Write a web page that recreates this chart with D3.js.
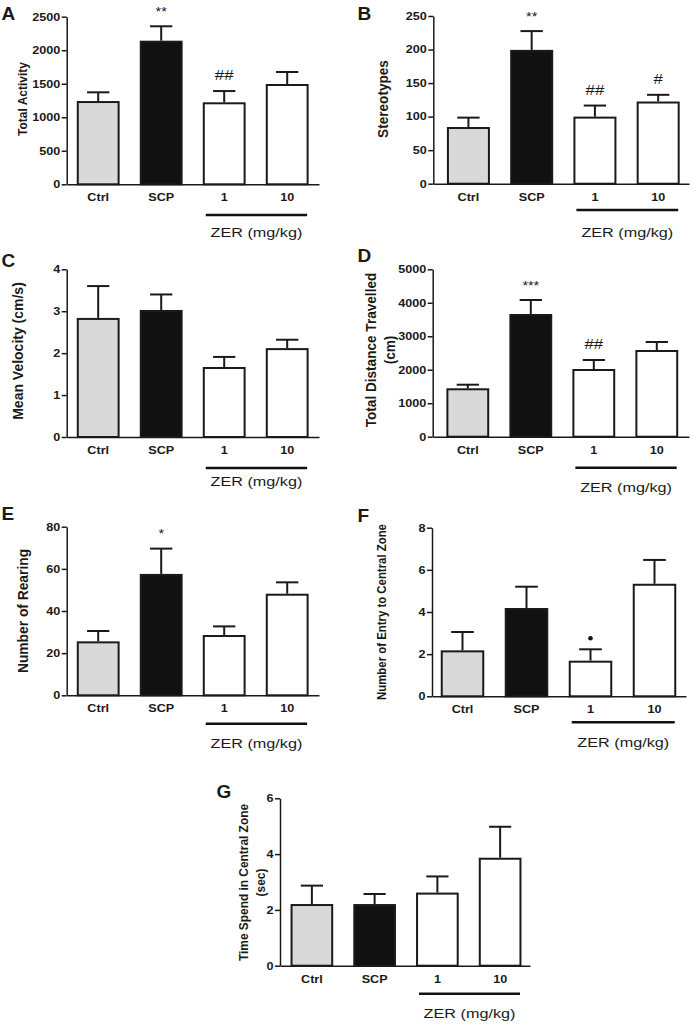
<!DOCTYPE html>
<html><head><meta charset="utf-8">
<script src="https://cdn.jsdelivr.net/npm/d3@7"></script>
<style>
body{margin:0;background:#fff}
svg{display:block}
text{font-family:Arial,"Liberation Sans",sans-serif;fill:#1a1a1a}
</style>
</head><body>
<svg id="c" width="693" height="1024"></svg>
<script>
// ---------- data ----------
const categories = ["Ctrl", "SCP", "1", "10"];

const activityMean = [1242, 2142, 1223, 1496];
const activityErr  = [130, 215, 168, 179];
const activityTicks = [0, 500, 1000, 1500, 2000, 2500];

const stereoMean = [84.5, 199.5, 100, 122.5];
const stereoErr  = [14, 28, 16.5, 10];
const stereoTicks = [0, 50, 100, 150, 200, 250];

const velocityMean = [2.84, 3.03, 1.67, 2.12];
const velocityErr  = [0.76, 0.37, 0.24, 0.2];
const velocityTicks = [0, 1, 2, 3, 4];

const distanceMean = [1446, 3665, 2022, 2590];
const distanceErr  = [107, 418, 269, 239];
const distanceTicks = [0, 1000, 2000, 3000, 4000, 5000];

const rearingMean = [25.6, 57.6, 28.6, 48.2];
const rearingErr  = [4.9, 12, 4.1, 5.4];
const rearingTicks = [0, 20, 40, 60, 80];

const entryMean = [2.18, 4.19, 1.69, 5.34];
const entryErr  = [0.87, 1.01, 0.54, 1.13];
const entryTicks = [0, 2, 4, 6, 8];

const timeMean = [2.21, 2.21, 2.62, 3.87];
const timeErr  = [0.66, 0.36, 0.58, 1.11];
const timeTicks = [0, 2, 4, 6];

const activityMarks = ["", "**", "##", ""];
const stereoMarks   = ["", "**", "##", "#"];
const velocityMarks = ["", "", "", ""];
const distanceMarks = ["", "***", "##", ""];
const rearingMarks  = ["", "*", "", ""];
const entryMarks    = ["", "", "•", ""];
const timeMarks     = ["", "", "", ""];

const groupLabel = "ZER (mg/kg)";

// ---------- layout ----------
const fills = ["#d9d9d9", "#111111", "#ffffff", "#ffffff"];
const SX = 1.2;
const svg = d3.select("#c");

const panels = [
  {letter:"A", lx:1.5, ly:20, title:["Total Activity"], tfs:12, tx:22, ty:99,
   mean:activityMean, err:activityErr, ticks:activityTicks, marks:activityMarks,
   ax:66.7, bx:66.7, bw:252, ae:319, y0:184.3, y1:16.7, zl:215, zt:232},
  {letter:"B", lx:357.5, ly:20, title:["Stereotypes"], tfs:13.6, tx:382.7, ty:99,
   mean:stereoMean, err:stereoErr, ticks:stereoTicks, marks:stereoMarks,
   ax:433.3, bx:436.8, bw:253, ae:689, y0:183.7, y1:16, zl:210, zt:232},
  {letter:"C", lx:1.5, ly:267, title:["Mean Velocity (cm/s)"], tfs:14, tx:18, ty:351,
   mean:velocityMean, err:velocityErr, ticks:velocityTicks, marks:velocityMarks,
   ax:66.7, bx:66.7, bw:252, ae:319, y0:437, y1:269.3, zl:468, zt:481},
  {letter:"D", lx:357.5, ly:262, title:["Total Distance Travelled","(cm)"], tfs:13.6, tx:[370.7,389.3], ty:350,
   mean:distanceMean, err:distanceErr, ticks:distanceTicks, marks:distanceMarks,
   ax:432.7, bx:436.3, bw:252, ae:689, y0:436.7, y1:269.3, zl:467.7, zt:486.7},
  {letter:"E", lx:1.5, ly:520, title:["Number of Rearing"], tfs:13.8, tx:22.8, ty:611,
   mean:rearingMean, err:rearingErr, ticks:rearingTicks, marks:rearingMarks,
   ax:66.7, bx:66.7, bw:252, ae:319, y0:695.3, y1:526.7, zl:723.7, zt:743.3},
  {letter:"F", lx:357.5, ly:521.5, title:["Number of Entry to Central Zone"], tfs:11.4, tx:381.7, ty:612,
   mean:entryMean, err:entryErr, ticks:entryTicks, marks:entryMarks,
   ax:432, bx:430.5, bw:256, ae:686, y0:696.3, y1:527.7, zl:722.3, zt:741.7},
  {letter:"G", lx:216.5, ly:798, title:["Time Spend in Central Zone","(sec)"], tfs:11.9, tx:[243.3,260], ty:882.5,
   mean:timeMean, err:timeErr, ticks:timeTicks, marks:timeMarks,
   ax:280, bx:280.5, bw:251, ae:530, y0:965.7, y1:798.3, zl:993.7, zt:1013.3}
];

function stext(g, x, y, str, o) {
  o = o || {};
  const sx = o.sx == null ? SX : o.sx;
  let tr = `translate(${x},${y}) scale(${sx},1)`;
  if (o.rot) tr += ` rotate(${o.rot})`;
  return g.append("text")
    .attr("transform", tr)
    .attr("text-anchor", o.anchor || "start")
    .attr("dy", o.dy || null)
    .style("font-size", (o.fs || 10) + "px")
    .style("font-weight", o.bold ? "bold" : "normal")
    .text(str);
}

function drawPanel(p) {
  const g = svg.append("g");
  const x = d3.scaleBand().domain(categories).range([p.bx, p.bx + p.bw])
    .paddingInner(0.32).paddingOuter(0.16);
  const y = d3.scaleLinear().domain([0, d3.max(p.ticks)]).range([p.y0, p.y1]);
  const bw = x.bandwidth();

  // error bars
  categories.forEach((c, i) => {
    const cx = x(c) + bw / 2;
    const top = y(p.mean[i] + p.err[i]);
    g.append("line").attr("x1", cx).attr("x2", cx)
      .attr("y1", y(p.mean[i])).attr("y2", top)
      .attr("stroke", "#1a1a1a").attr("stroke-width", 2);
    g.append("line").attr("x1", cx - bw * 0.26).attr("x2", cx + bw * 0.26)
      .attr("y1", top).attr("y2", top)
      .attr("stroke", "#1a1a1a").attr("stroke-width", 2);
    // significance marks
    const m = p.marks[i];
    if (m) {
      if (m === "•") {
        g.append("circle").attr("cx", cx).attr("cy", top - 11).attr("r", 2.3).attr("fill", "#111");
      } else if (m[0] === "*") {
        stext(g, cx, top - 18 + 7.7, m, {anchor:"middle", fs:12});
      } else {
        stext(g, cx, top - 16 + 5, m, {anchor:"middle", fs:14});
      }
    }
  });

  // bars
  g.selectAll("rect.bar").data(categories).enter().append("rect")
    .attr("class", "bar")
    .attr("x", c => x(c) + 1)
    .attr("width", bw - 2)
    .attr("y", (c, i) => y(p.mean[i]) + 1)
    .attr("height", (c, i) => p.y0 - y(p.mean[i]) - 1)
    .attr("fill", (c, i) => fills[i])
    .attr("stroke", "#1a1a1a").attr("stroke-width", 2);

  // y axis
  const ya = g.append("g").attr("transform", `translate(${p.ax},0)`)
    .call(d3.axisLeft(y).tickValues(p.ticks).tickSize(5).tickSizeOuter(0).tickFormat(""));
  ya.selectAll("path,line").attr("stroke", "#1a1a1a").attr("stroke-width", 1.5);
  p.ticks.forEach(v => stext(g, p.ax - 6.5, y(v) + 3.8, String(v), {anchor:"end", bold:true, fs:10.5}));

  // x axis
  const xa = g.append("g").attr("transform", `translate(0,${p.y0})`)
    .call(d3.axisBottom(d3.scaleLinear().range([p.ax, p.ae])).tickValues([]).tickSizeOuter(0));
  xa.selectAll("path").attr("stroke", "#1a1a1a").attr("stroke-width", 1.5);
  categories.forEach(c => stext(g, x(c) + bw / 2, p.y0 + 17, c, {anchor:"middle", bold:true, fs:10.5}));

  // group line + label
  const zx1 = x("1") + 3, zx2 = x("10") + bw - 1.5;
  g.append("line").attr("x1", zx1).attr("x2", zx2).attr("y1", p.zl).attr("y2", p.zl)
    .attr("stroke", "#111").attr("stroke-width", 2.5);
  stext(g, (zx1 + zx2) / 2, p.zt + 4.8, groupLabel, {anchor:"middle", fs:13.5, sx:1.2});

  // y title
  const txs = Array.isArray(p.tx) ? p.tx : [p.tx];
  p.title.forEach((t, k) => stext(g, txs[k], p.ty, t,
    {anchor:"middle", bold:true, fs:p.tfs, rot:-90, dy:"0.35em", sx:1.1}));

  // panel letter
  stext(g, p.lx, p.ly, p.letter, {bold:true, fs:19, sx:1});
}

panels.forEach(drawPanel);
</script>
</body></html>
